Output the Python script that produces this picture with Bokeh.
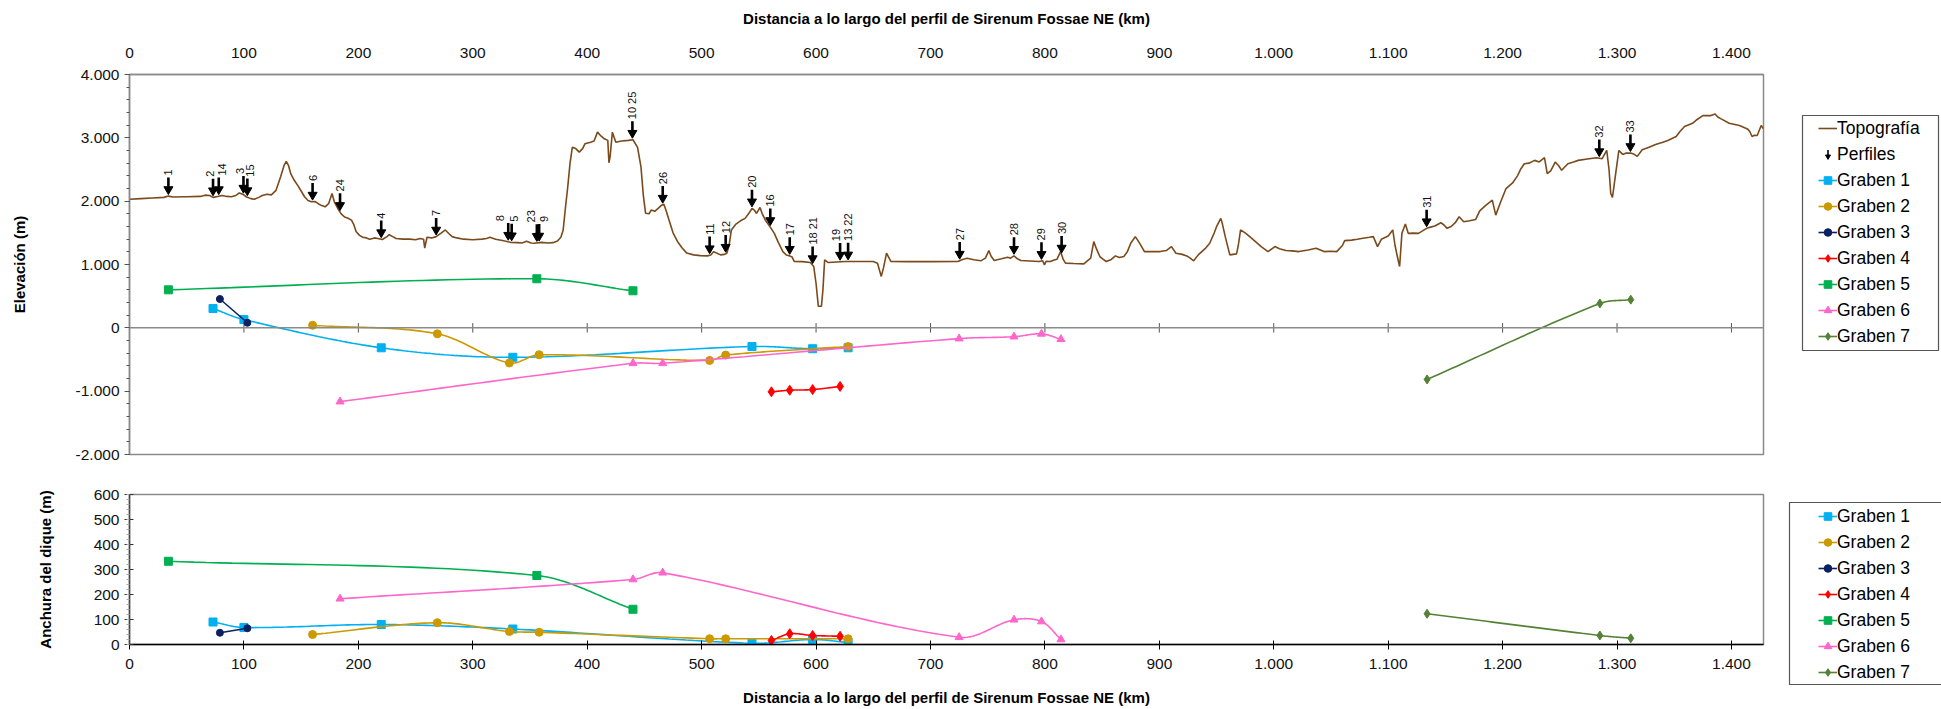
import numpy as np
from bokeh.plotting import figure
from bokeh.models import Range1d, FixedTicker, Span, Legend, LegendItem, ColumnDataSource
from bokeh.layouts import column, row
from bokeh.embed import file_html
from bokeh.resources import INLINE
from bokeh.core.properties import value

# ---------------- DATA ----------------
topo_km = [0, 10, 20, 30, 34, 38, 50, 62, 66, 70, 73, 77, 81, 85, 89, 93, 96, 99, 102, 106, 109, 113, 116,
           120, 124, 128, 132, 135, 137, 139, 141, 144, 147, 150, 153, 156, 159, 162, 165, 168, 171, 174,
           177, 179, 182, 185, 188, 191, 194, 196, 198, 201, 204, 207, 210, 214, 217, 221, 225, 227, 230,
           233, 239, 245, 250, 254, 257, 258, 260, 264, 268, 272, 276, 279, 282, 286, 292, 300, 308, 312,
           315, 320, 327, 333, 339, 343, 347, 351, 354, 360, 366, 370, 374, 377, 379, 381, 383, 385, 387,
           390, 393, 396, 398, 403, 406, 409, 412, 415, 418, 419, 420, 422, 425, 430, 436, 440, 444, 447,
           449, 451, 454, 456, 459, 462, 465, 467, 469, 471, 475, 479, 483, 487, 493, 499, 505, 508, 510.6,
           513, 516.5, 520, 522, 524, 526, 530, 534, 538, 541, 544, 546, 548, 551, 553, 555.7, 560, 563.5,
           567, 571, 574, 577, 579, 581, 588, 595, 598, 600, 602, 604.7, 606, 607.5, 610.6, 618, 626, 640,
           650, 653.7, 657, 659, 661.6, 665.5, 680, 700, 724, 728, 732, 738, 744, 748, 751, 753, 755.7, 762,
           767.5, 770, 773, 776, 779, 787, 795, 798, 799.6, 801, 804.7, 808, 810.6, 813.7, 816, 818, 825,
           834, 840, 842.7, 845, 848, 851, 853.7, 858, 861.6, 865, 869, 872, 875, 879, 883, 887, 894, 900.8,
           906, 910.6, 914.5, 920, 924, 927, 930, 934, 940, 944, 948, 950, 953.7, 955, 957.6, 961.6, 967.5,
           969, 971, 975, 979, 984, 989, 995, 1001, 1005, 1010.6, 1016, 1022, 1030, 1037, 1044, 1050, 1055,
           1060, 1062, 1068, 1073, 1078, 1083.5, 1087, 1090.7, 1094, 1100, 1104, 1106, 1108, 1110, 1112,
           1115, 1117.5, 1122, 1126.5, 1130, 1133.6, 1137, 1140.8, 1146, 1149, 1151.5, 1155, 1158.6, 1162,
           1166, 1171, 1176.5, 1180, 1185, 1191, 1194, 1198, 1203, 1208.7, 1213, 1216, 1219, 1223, 1228,
           1232, 1236.6, 1239, 1242, 1246, 1249, 1251.6, 1257, 1262, 1266, 1274, 1282, 1287, 1291, 1293,
           1294.5, 1296, 1298.8, 1301.6, 1305, 1308, 1312, 1315, 1317.7, 1322, 1328, 1333.7, 1340, 1344.4,
           1348, 1351.7, 1355, 1359, 1366, 1370, 1375, 1382, 1385.7, 1388, 1391, 1398, 1403, 1407, 1414,
           1416, 1418, 1420, 1422.5, 1426, 1428]
topo_elev = [2030, 2040, 2050, 2060, 2080, 2065, 2070, 2075, 2095, 2090, 2060, 2075, 2090, 2075, 2070, 2090,
             2130, 2110, 2070, 2040, 2030, 2060, 2090, 2110, 2100, 2170, 2380, 2560, 2630, 2560, 2430, 2330,
             2250, 2160, 2070, 2010, 1990, 1995, 1960, 1930, 1910, 1960, 2120, 1990, 1885, 1800, 1750, 1730,
             1700, 1630, 1520, 1460, 1430, 1420, 1400, 1420, 1410, 1395, 1440, 1470, 1440, 1410, 1400, 1400,
             1390, 1410, 1400, 1260, 1430, 1420, 1440, 1490, 1545, 1490, 1440, 1420, 1400, 1390, 1400, 1410,
             1430, 1400, 1375, 1350, 1345, 1340, 1367, 1340, 1335, 1350, 1340, 1345, 1370, 1430, 1545, 1900,
             2225, 2600, 2850, 2830, 2775, 2830, 2905, 2930, 2950, 3090, 3030, 2985, 2960, 2607, 2700, 3090,
             2930, 2950, 2960, 2970, 2850, 2540, 2100, 1810, 1800, 1860, 1840, 1885, 1937, 1950, 1850, 1730,
             1500, 1360, 1260, 1180, 1152, 1140, 1136, 1150, 1204, 1180, 1152, 1160, 1178, 1300, 1545, 1639,
             1690, 1728, 1800, 1885, 1860, 1806, 1900, 1800, 1700, 1590, 1492, 1350, 1204, 1150, 1136, 1120,
             1047, 1045, 1031, 968, 700, 340, 340, 600, 1073, 1031, 1040, 1047, 1047, 1047, 1021, 812, 950,
             1178, 1047, 1045, 1045, 1047, 1080, 1099, 1075, 1058, 1100, 1220, 1130, 1063, 1090, 1115, 1100,
             1136, 1090, 1063, 1055, 1047, 1060, 995, 1050, 1047, 1070, 1084, 1204, 1080, 1021, 1015, 1010,
             1100, 1361, 1250, 1126, 1080, 1047, 1080, 1136, 1110, 1126, 1200, 1335, 1440, 1330, 1204, 1205,
             1204, 1220, 1283, 1178, 1160, 1136, 1100, 1058, 1152, 1250, 1335, 1500, 1597, 1728, 1650, 1440,
             1152, 1168, 1300, 1545, 1500, 1440, 1360, 1283, 1204, 1283, 1250, 1220, 1215, 1204, 1230, 1257,
             1204, 1210, 1204, 1300, 1377, 1385, 1398, 1415, 1430, 1440, 1283, 1398, 1450, 1545, 1300, 1126,
             969, 1492, 1639, 1492, 1495, 1492, 1530, 1571, 1590, 1607, 1660, 1620, 1571, 1600, 1660, 1754,
             1675, 1690, 1712, 1848, 1930, 2016, 1780, 1974, 2199, 2288, 2400, 2513, 2592, 2600, 2644, 2620,
             2686, 2435, 2480, 2618, 2560, 2487, 2592, 2620, 2644, 2665, 2686, 2670, 2801, 2500, 2121, 2058,
             2435, 2801, 2738, 2760, 2759, 2740, 2707, 2812, 2850, 2896, 2930, 2958, 2990, 3021, 3100, 3178,
             3230, 3290, 3351, 3351, 3377, 3330, 3299, 3230, 3210, 3194, 3141, 3100, 3021, 3040, 3037, 3194,
             3141]

profile_labels = ["1", "2", "14", "3", "15", "6", "24", "4", "7", "8", "5", "23", "9", "10 25", "26",
                  "11", "12", "20", "16", "17", "18 21", "19", "13 22", "27", "28", "29", "30", "31",
                  "32", "33"]
profile_km = [34, 73, 78, 99.6, 103, 160, 184, 220, 268, 331, 334, 356, 358, 439.5, 466,
              507, 521, 544, 560, 577, 597, 621, 628, 725.5, 773, 797, 814.6, 1133.6,
              1284.5, 1311.7]

g1_km = [73, 100, 220, 335, 544, 597, 628]
g1_elev = [305, 130, -315, -465, -295, -330, -315]
g1_width = [90, 68, 80, 62, 5, 20, 8]

g2_km = [160, 269, 332, 358, 507, 521, 628]
g2_elev = [40, -95, -555, -425, -515, -430, -295]
g2_width = [40, 87, 52, 49, 23, 23, 23]

g3_km = [79, 103]
g3_elev = [455, 80]
g3_width = [47, 65]

g4_km = [561, 577, 597, 621]
g4_elev = [-1010, -985, -975, -925]
g4_width = [16, 43, 36, 33]

g5_km = [34, 356, 440]
g5_elev = [600, 775, 585]
g5_width = [333, 276, 141]

g6_km = [184, 440, 466, 725, 773, 797, 814]
g6_elev = [-1165, -560, -560, -170, -140, -95, -180]
g6_width = [183, 260, 287, 29, 99, 92, 20]

g7_km = [1134, 1285, 1312]
g7_elev = [-815, 385, 445]
g7_width = [123, 36, 25]

x_ticks = [0, 100, 200, 300, 400, 500, 600, 700, 800, 900, 1000, 1100, 1200, 1300, 1400]
x_tick_labels = ["0", "100", "200", "300", "400", "500", "600", "700", "800", "900", "1.000",
                 "1.100", "1.200", "1.300", "1.400"]
elev_ticks = [-2000, -1000, 0, 1000, 2000, 3000, 4000]
elev_tick_labels = ["-2.000", "-1.000", "0", "1.000", "2.000", "3.000", "4.000"]
width_ticks = [0, 100, 200, 300, 400, 500, 600]
width_tick_labels = ["0", "100", "200", "300", "400", "500", "600"]

series_names = ["Graben 1", "Graben 2", "Graben 3", "Graben 4", "Graben 5", "Graben 6", "Graben 7"]

# ---------------- STYLE ----------------
FONT = "Liberation Sans"
GRAY = "#8a8a8a"
BROWN = "#7a4a1c"
W_TOTAL = 1941
W = 1785          # width of the chart figures
LW = W_TOTAL - W  # width of the legend column
X_MAX = 1428
FL = 129          # frame left
FW = 1634         # frame width
TOP_H = 464
BOT_H = 709 - TOP_H
TOP_FT = 74
TOP_FH = 380
BOT_FT = 30
BOT_FH = 150
ITEM_H = 26
GLYPH_W = 19
label_dx = [0, -3, 3, -3, 3, 0, 0, 0, 0, -8, 2, -6, 5, 0, 0, 0, 0, 0, 0, 0, 0, -4, 0, 0, 0, 0, 0, 0, 0, 0]
styles = [
    dict(color="#00B0F0", marker="square", size=8),
    dict(color="#CC9900", marker="circle", size=8),
    dict(color="#0B2161", marker="circle", size=7),
    dict(color="#FF0000", marker="diamond", size=10),
    dict(color="#00B050", marker="square", size=8),
    dict(color="#FF66CC", marker="triangle", size=8),
    dict(color="#548235", marker="diamond", size=9),
]


def smooth(xs, ys, kx, ky, n=30):
    """Smoothed line through the data points (Bezier, chord-weighted tangents), computed in screen space."""
    xs = np.asarray(xs, float) * kx
    ys = np.asarray(ys, float) * ky
    if len(xs) < 3:
        return xs / kx, ys / ky
    P = np.column_stack([xs, ys])
    m = len(P)
    out = []
    for i in range(m - 1):
        p0 = P[i - 1] if i > 0 else P[i]
        p1 = P[i]
        p2 = P[i + 1]
        p3 = P[i + 2] if i + 2 < m else P[i + 1]
        d01 = np.hypot(*(p1 - p0))
        d12 = np.hypot(*(p2 - p1))
        d23 = np.hypot(*(p3 - p2))
        f1 = d12 / (d01 + d12) / 3.0 if d01 + d12 > 0 else 0
        f2 = d12 / (d12 + d23) / 3.0 if d12 + d23 > 0 else 0
        c1 = p1 + (p2 - p0) * f1
        c2 = p2 - (p3 - p1) * f2
        t = np.linspace(0, 1, n)[:, None]
        seg = ((1 - t) ** 3) * p1 + 3 * ((1 - t) ** 2) * t * c1 + 3 * (1 - t) * t ** 2 * c2 + t ** 3 * p2
        out.append(seg if i == 0 else seg[1:])
    out = np.vstack(out)
    return out[:, 0] / kx, out[:, 1] / ky


def style_axis_common(ax):
    ax.major_label_text_font = FONT
    ax.major_label_text_font_size = "15.5px"
    ax.major_label_text_color = "#111111"
    ax.axis_label_text_font = FONT
    ax.axis_label_text_font_style = "bold"
    ax.axis_label_text_font_size = "15px"
    ax.axis_label_text_color = "#000000"


def legend_figure(h, entries, box, glyph_left, items_top):
    """A borderless figure (1 unit = 1 px) that only holds a legend and its frame box."""
    f = figure(width=LW, height=h, x_range=Range1d(0, LW), y_range=Range1d(0, h),
               x_axis_type=None, y_axis_type=None, output_backend="svg", toolbar_location=None,
               min_border=0, min_border_left=0, min_border_right=0, min_border_top=0, min_border_bottom=0)
    f.outline_line_color = None
    f.xgrid.visible = False
    f.ygrid.visible = False
    bl, br, bt, bb = box
    f.quad(left=[bl], right=[br], top=[h - bt], bottom=[h - bb], fill_color="white",
           line_color="#555555", line_width=1.2)
    items = []
    for k, (label, kind, st) in enumerate(entries):
        rs = []
        if kind == "line":
            rs.append(f.line(x=[np.nan], y=[np.nan], line_color=st["color"], line_width=1.6))
        if kind == "arrow":
            # legend key drawn as a small down arrow at the item's glyph slot
            rs.append(f.scatter(x=[np.nan], y=[np.nan], marker="square", size=1,
                                fill_alpha=0, line_alpha=0))
            cx = glyph_left + GLYPH_W / 2.0
            cy = h - (items_top + (k + 0.5) * ITEM_H)
            f.segment(x0=[cx], y0=[cy + 4.5], x1=[cx], y1=[cy - 1], line_color="black", line_width=1.6)
            f.scatter(x=[cx], y=[cy - 2], marker="inverted_triangle", size=5,
                      fill_color="black", line_color="black")
        if kind == "graben":
            rs.append(f.line(x=[np.nan], y=[np.nan], line_color=st["color"], line_width=1.6))
            rs.append(f.scatter(x=[np.nan], y=[np.nan], marker=st["marker"], size=st["size"],
                                fill_color=st["color"], line_color=st["color"]))
        items.append(LegendItem(label=label, renderers=rs))
    n = len(items)
    lg = Legend(items=items, location=(glyph_left, h - items_top - n * ITEM_H))
    lg.label_text_font = FONT
    lg.label_text_font_size = "17.5px"
    lg.label_text_color = "#000000"
    lg.label_height = ITEM_H
    lg.glyph_height = 20
    lg.glyph_width = GLYPH_W
    lg.label_standoff = 0
    lg.spacing = 0
    lg.padding = 0
    lg.margin = 0
    lg.border_line_color = None
    lg.background_fill_alpha = 0
    f.add_layout(lg)
    return f


# ---------------- TOP FIGURE ----------------
top = figure(width=W, height=TOP_H, x_range=Range1d(0, X_MAX), y_range=Range1d(-2000, 4000),
             x_axis_location="above", output_backend="svg", toolbar_location=None,
             min_border_left=FL, min_border_right=W - FL - FW, min_border_top=TOP_FT,
             min_border_bottom=TOP_H - TOP_FT - TOP_FH)
top.xgrid.visible = False
top.ygrid.visible = False
top.outline_line_color = GRAY
top.outline_line_width = 1.5

ax = top.xaxis[0]
ax.ticker = FixedTicker(ticks=x_ticks)
ax.major_label_overrides = {t: l for t, l in zip(x_ticks, x_tick_labels)}
ax.major_tick_line_color = None
ax.minor_tick_line_color = None
ax.axis_line_color = GRAY
ax.axis_line_width = 1.5
ax.axis_label = "Distancia a lo largo del perfil de Sirenum Fossae NE (km)"
style_axis_common(ax)
ax.major_label_standoff = 11
ax.axis_label_standoff = 18

ay = top.yaxis[0]
ay.ticker = FixedTicker(ticks=elev_ticks, minor_ticks=list(range(-2000, 4001, 200)))
ay.major_label_overrides = {t: l for t, l in zip(elev_ticks, elev_tick_labels)}
ay.axis_line_color = GRAY
ay.axis_line_width = 1.5
ay.major_tick_line_color = "#555555"
ay.major_tick_out = 5
ay.major_tick_in = 0
ay.minor_tick_line_color = "#555555"
ay.minor_tick_out = 3
ay.minor_tick_in = 0
ay.axis_label = "Elevación (m)"
style_axis_common(ay)
ay.major_label_standoff = 5
ay.axis_label_standoff = 45

top.add_layout(Span(location=0, dimension="width", line_color=GRAY, line_width=1.5))
top.segment(x0=x_ticks, y0=[-75] * len(x_ticks), x1=x_ticks, y1=[75] * len(x_ticks),
            line_color="#555555", line_width=1)

top.line(topo_km, topo_elev, line_color=BROWN, line_width=1.6)

# profile arrows
tips = np.interp(profile_km, topo_km, topo_elev) + 45
psrc = ColumnDataSource(dict(x=profile_km, tip=tips, head=tips + 62, shaft_top=tips + 250,
                             label_y=tips + 280, text=profile_labels, dx=label_dx))
top.segment(x0="x", y0="head", x1="x", y1="shaft_top", source=psrc, line_color="black", line_width=2.6)
top.scatter(x="x", y="head", source=psrc, marker="inverted_triangle", size=9,
            fill_color="black", line_color="black")
top.text(x="x", y="label_y", text="text", x_offset="dx", source=psrc, angle=np.pi / 2,
         text_align="left", text_baseline="middle", text_font=value(FONT),
         text_font_size="11px", text_color="#111111")

g_km = [g1_km, g2_km, g3_km, g4_km, g5_km, g6_km, g7_km]
g_elev = [g1_elev, g2_elev, g3_elev, g4_elev, g5_elev, g6_elev, g7_elev]
g_width = [g1_width, g2_width, g3_width, g4_width, g5_width, g6_width, g7_width]

kx = FW / X_MAX
for name, xs, ys, st in zip(series_names, g_km, g_elev, styles):
    sx, sy = smooth(xs, ys, kx, TOP_FH / 6000.0)
    top.line(sx, sy, line_color=st["color"], line_width=1.6)
    top.scatter(xs, ys, marker=st["marker"], size=st["size"], fill_color=st["color"], line_color=st["color"])

# ---------------- BOTTOM FIGURE ----------------
bot = figure(width=W, height=BOT_H, x_range=Range1d(0, X_MAX), y_range=Range1d(0, 600),
             output_backend="svg", toolbar_location=None,
             min_border_left=FL, min_border_right=W - FL - FW, min_border_top=BOT_FT,
             min_border_bottom=BOT_H - BOT_FT - BOT_FH)
bot.xgrid.visible = False
bot.ygrid.visible = False
bot.outline_line_color = GRAY
bot.outline_line_width = 1.5

bx = bot.xaxis[0]
bx.ticker = FixedTicker(ticks=x_ticks)
bx.major_label_overrides = {t: l for t, l in zip(x_ticks, x_tick_labels)}
bx.axis_line_color = "black"
bx.axis_line_width = 1.5
bx.major_tick_line_color = "black"
bx.major_tick_in = 4
bx.major_tick_out = 5
bx.minor_tick_line_color = None
bx.axis_label = "Distancia a lo largo del perfil de Sirenum Fossae NE (km)"
style_axis_common(bx)
bx.major_label_standoff = 9
bx.axis_label_standoff = 17

by = bot.yaxis[0]
by.ticker = FixedTicker(ticks=width_ticks, minor_ticks=list(range(0, 601, 20)))
by.major_label_overrides = {t: l for t, l in zip(width_ticks, width_tick_labels)}
by.axis_line_color = "#444444"
by.axis_line_width = 1.5
by.major_tick_line_color = "#333333"
by.major_tick_out = 5
by.major_tick_in = 4
by.minor_tick_line_color = "#aaaaaa"
by.minor_tick_out = 3
by.minor_tick_in = 0
by.axis_label = "Anchura del dique (m)"
style_axis_common(by)
by.major_label_standoff = 5
by.axis_label_standoff = 37

for name, xs, ys, st in zip(series_names, g_km, g_width, styles):
    sx, sy = smooth(xs, ys, kx, BOT_FH / 600.0)
    bot.line(sx, sy, line_color=st["color"], line_width=1.6)
    bot.scatter(xs, ys, marker=st["marker"], size=st["size"], fill_color=st["color"], line_color=st["color"])

# ---------------- LEGENDS ----------------
top_entries = [("Topografía", "line", dict(color=BROWN)), ("Perfiles", "arrow", None)] + \
              [(n, "graben", st) for n, st in zip(series_names, styles)]
bot_entries = [(n, "graben", st) for n, st in zip(series_names, styles)]
leg_top = legend_figure(TOP_H, top_entries, box=(17, 153, 115, 350), glyph_left=33, items_top=115)
leg_bot = legend_figure(BOT_H, bot_entries, box=(4, LW + 2, 38, 220), glyph_left=33, items_top=39)

layout = row(column(top, bot, spacing=0), column(leg_top, leg_bot, spacing=0), spacing=0)
open("out.html", "w").write(file_html(layout, INLINE))
